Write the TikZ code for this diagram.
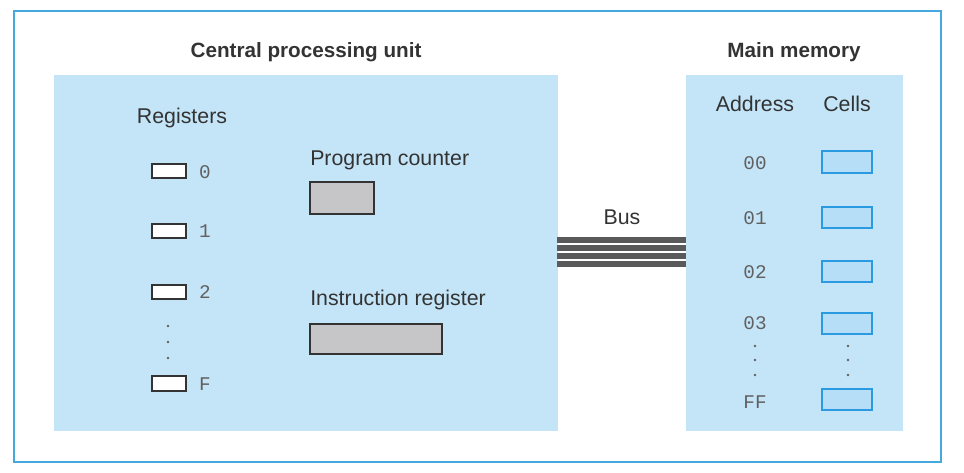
\documentclass[tikz,border=0pt]{standalone}
\usepackage{fontspec}
\setmainfont{Liberation Sans}
\newfontfamily\monofont{Liberation Mono}
\definecolor{frameblue}{HTML}{45A8DE}
\definecolor{panel}{HTML}{C4E5F8}
\definecolor{cellfill}{HTML}{B6DFF7}
\definecolor{cellline}{HTML}{2A9BE0}
\definecolor{graybox}{HTML}{C6C6C8}
\definecolor{txt}{HTML}{333333}
\definecolor{monotxt}{HTML}{606060}
\definecolor{busgray}{HTML}{5A5A5A}
\begin{document}
\begin{tikzpicture}[x=0.75pt,y=-0.75pt,
  title/.style={font=\fontsize{15.5}{17}\selectfont\bfseries, text=txt, inner sep=0pt},
  lbl/.style={font=\fontsize{16}{18}\selectfont, text=txt, inner sep=0pt},
  mono/.style={font=\monofont\fontsize{14.5}{16}\selectfont, text=monotxt, inner sep=0pt},
  regbox/.style={draw=txt, fill=white, line width=1.4pt},
  grayreg/.style={draw=txt, fill=graybox, line width=1.4pt},
  cellbox/.style={draw=cellline, fill=cellfill, line width=1.4pt},
  panelbox/.style={fill=panel, draw=none},
  dot/.style={circle, fill=monotxt, inner sep=0pt, minimum size=2.2pt},
  busline/.style={draw=busgray, line width=4.2pt}
]
\useasboundingbox (0,0) rectangle (964,472);
% outer frame
\draw[frameblue, line width=1.6pt] (14,11) rectangle (941,462);
% panels
\path[panelbox] (54,75) rectangle (558,431);
\path[panelbox] (686,75) rectangle (903,431);
% titles
\node[title] (cputitle) at (306,52) {Central processing unit};
\node[title] (memtitle) at (794,52) {Main memory};
% registers
\node[lbl] (regtitle) at (182,118) {Registers};
\draw[regbox] (152,164) rectangle (186,178); \node[mono] (r0) at (205,172) {0};
\draw[regbox] (152,224) rectangle (186,238); \node[mono] (r1) at (205,231) {1};
\draw[regbox] (152,285) rectangle (186,299); \node[mono] (r2) at (205,292) {2};
\node[dot] (rd1) at (168,326) {};
\node[dot] (rd2) at (168,342) {};
\node[dot] (rd3) at (168,358) {};
\draw[regbox] (152,376) rectangle (186,391); \node[mono] (rF) at (205,384) {F};
% program counter / instruction register
\node[lbl, anchor=west] (pclabel) at (310,160) {Program counter};
\draw[grayreg] (310,182) rectangle (374,214);
\node[lbl, anchor=west] (irlabel) at (310,300) {Instruction register};
\draw[grayreg] (310,324) rectangle (442,354);
% bus
\node[lbl] (buslabel) at (622,217) {Bus};
\foreach \yy in {240,248,256,264}{
  \draw[busline] (557,\yy) -- (686,\yy);
}
% memory
\node[lbl] (addr) at (755,104) {Address};
\node[lbl] (cells) at (847,104) {Cells};
\node[mono] (a00) at (755,163) {00};
\draw[cellbox] (822,151) rectangle (872,173);
\node[mono] (a01) at (755,218) {01};
\draw[cellbox] (822,207) rectangle (872,228);
\node[mono] (a02) at (755,272) {02};
\draw[cellbox] (822,261) rectangle (872,282);
\node[mono] (a03) at (755,323) {03};
\draw[cellbox] (822,313) rectangle (872,334);
\node[dot] (ad1) at (755,346) {};
\node[dot] (ad2) at (755,360) {};
\node[dot] (ad3) at (755,375) {};
\node[dot] (cd1) at (848,346) {};
\node[dot] (cd2) at (848,360) {};
\node[dot] (cd3) at (848,375) {};
\node[mono] (aFF) at (755,402) {FF};
\draw[cellbox] (822,389) rectangle (872,410);
\end{tikzpicture}
\end{document}
